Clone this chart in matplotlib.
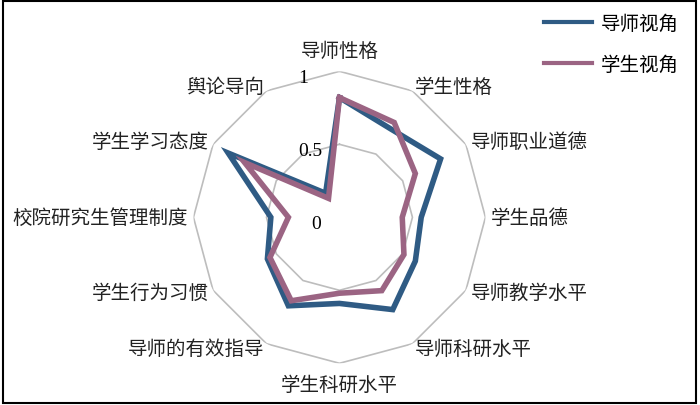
import numpy as np
import matplotlib
matplotlib.use('Agg')
import matplotlib.pyplot as plt
from matplotlib.patches import Rectangle

plt.rcParams['font.family'] = ['Noto Sans CJK SC', 'DejaVu Sans']

categories = ['导师性格', '学生性格', '导师职业道德', '学生品德', '导师教学水平',
              '导师科研水平', '学生科研水平', '导师的有效指导', '学生行为习惯',
              '校院研究生管理制度', '学生学习态度', '舆论导向']
tutor_view = [0.82, 0.70, 0.80, 0.56, 0.60, 0.73, 0.59, 0.70, 0.57, 0.47, 0.88, 0.19]
student_view = [0.82, 0.75, 0.60, 0.43, 0.51, 0.58, 0.52, 0.66, 0.55, 0.35, 0.75, 0.15]
ring_values = [0, 0.5, 1]
ring_labels = ['0', '0.5', '1']
series_names = ['导师视角', '学生视角']

n = len(categories)
angles = np.linspace(0, 2 * np.pi, n, endpoint=False)
closed = np.append(angles, angles[0])

fig = plt.figure(figsize=(7, 4.06), dpi=100)
ax = fig.add_axes([0.2764, 0.1027, 0.4171, 0.7192], projection='polar')
ax.set_theta_zero_location('N')
ax.set_theta_direction(-1)
ax.set_ylim(0, 1)
ax.grid(False)
ax.spines['polar'].set_visible(False)
ax.set_xticks([])
ax.set_yticks([])
ax.patch.set_alpha(0)

# polygon rings
for v in ring_values[1:]:
    ax.plot(closed, [v] * (n + 1), color='#bdbdbd', lw=1.2, zorder=1)

colors = ['#2f5b84', '#9b6483']
for vals, c, name in zip([tutor_view, student_view], colors, series_names):
    ax.plot(closed, vals + vals[:1], color=c, lw=4, label=name,
            solid_joinstyle='miter', zorder=3)

# category labels
for a, lab in zip(angles, categories):
    s, co = np.sin(a), np.cos(a)
    ha = 'center' if abs(s) < 0.1 else ('left' if s > 0 else 'right')
    if abs(s) < 0.1:
        va = 'bottom' if co > 0 else 'top'
        r = 1.07
    else:
        va = 'center'
        r = 1.035
    ax.text(a, r, lab, ha=ha, va=va, fontsize=14, color='#222222')

# value labels
x_off = [-23.5, -29.5, -36]
for v, lab, dx in zip(ring_values, ring_labels, x_off):
    ax.annotate(lab, (0, v), xytext=(dx * 0.72, -6 * 0.72), textcoords='offset points',
                ha='center', va='center', fontsize=14, family='Liberation Serif')

fig.legend(loc='upper left', bbox_to_anchor=(0.757, 1.0), frameon=False,
           fontsize=14, handlelength=2.5, handletextpad=0.45, labelspacing=1.05,
           borderaxespad=0.3)
for line in fig.legends[0].get_lines():
    line.set_linewidth(3)

fig.patches.append(Rectangle((0.004, 0.006), 0.99, 0.99, transform=fig.transFigure,
                             fill=False, edgecolor='black', lw=1.5))

fig.savefig('out.png', dpi=100)
